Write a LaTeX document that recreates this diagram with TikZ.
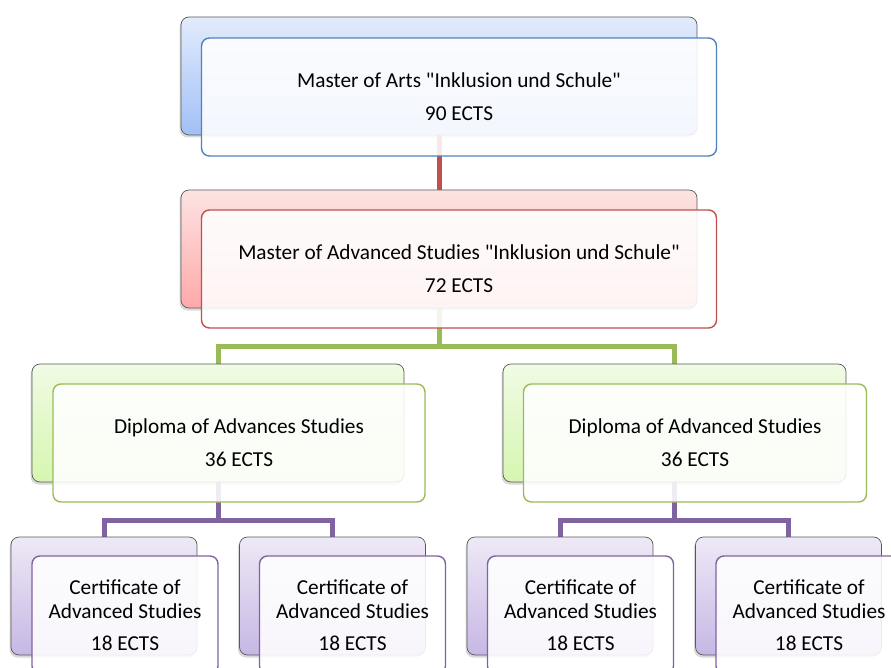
\documentclass[tikz,border=0pt]{standalone}
\usepackage{fontspec}
\setmainfont{Carlito}[Ligatures=TeXOff]
\usetikzlibrary{shadows,backgrounds}
\definecolor{lvAline}{HTML}{4F81BD}
\definecolor{lvBline}{HTML}{C0504D}
\definecolor{lvCline}{HTML}{9BBB59}
\definecolor{lvDline}{HTML}{8064A2}
\definecolor{lvAtop}{HTML}{E2EBFC}
\definecolor{lvAbot}{HTML}{A2C0F7}
\definecolor{lvBtop}{HTML}{FDE3E3}
\definecolor{lvBbot}{HTML}{FFA9A9}
\definecolor{lvCtop}{HTML}{F0FBE4}
\definecolor{lvCbot}{HTML}{D6F6B0}
\definecolor{lvDtop}{HTML}{EEE9F6}
\definecolor{lvDbot}{HTML}{C7B7E5}
\begin{document}
\begin{tikzpicture}[x=1pt,y=-1pt,
  backbox/.style={draw=black!65, line width=0.7pt, rounded corners=8pt,
    minimum height=118pt, inner sep=0pt,
    drop shadow={shadow xshift=-1.5pt, shadow yshift=-2.5pt, opacity=0.3}},
  frontbox/.style={rounded corners=8pt, fill=white, fill opacity=0.88,
    text opacity=1, line width=1.4pt, minimum height=118pt, inner sep=0pt,
    align=center, font=\fontsize{21.3}{24}\selectfont, text=black},
  conn/.style={line width=5pt}
]
\useasboundingbox (0,0) rectangle (891,668);

% level 1
\node[backbox, top color=lvAtop, bottom color=lvAbot, minimum width=516pt] (b1) at (439,76) {};
\node[frontbox, draw=lvAline, minimum width=515pt] (f1) at (459,97)
  {Master of Arts "Inklusion und Schule"\\[9pt]90 ECTS};

% level 2
\node[backbox, top color=lvBtop, bottom color=lvBbot, minimum width=516pt] (b2) at (439,249) {};
\node[frontbox, draw=lvBline, minimum width=515pt] (f2) at (459,269)
  {Master of Advanced Studies "Inklusion und Schule"\\[9pt]72 ECTS};

% level 3
\node[backbox, top color=lvCtop, bottom color=lvCbot, minimum width=372pt] (b3a) at (218,423) {};
\node[frontbox, draw=lvCline, minimum width=372pt] (f3a) at (239,443)
  {Diploma of Advances Studies\\[9pt]36 ECTS};
\node[backbox, top color=lvCtop, bottom color=lvCbot, minimum width=343pt] (b3b) at (674.5,423) {};
\node[frontbox, draw=lvCline, minimum width=343pt] (f3b) at (695,443)
  {Diploma of Advanced Studies\\[9pt]36 ECTS};

% level 4
\node[backbox, top color=lvDtop, bottom color=lvDbot, minimum width=186pt] (b4a) at (104,596) {};
\node[frontbox, draw=lvDline, minimum width=186pt] (f4a) at (125,615)
  {Certificate of\\Advanced Studies\\[8pt]18 ECTS};
\node[backbox, top color=lvDtop, bottom color=lvDbot, minimum width=186pt] (b4b) at (332.5,596) {};
\node[frontbox, draw=lvDline, minimum width=186pt] (f4b) at (352.5,615)
  {Certificate of\\Advanced Studies\\[8pt]18 ECTS};
\node[backbox, top color=lvDtop, bottom color=lvDbot, minimum width=186pt] (b4c) at (560,596) {};
\node[frontbox, draw=lvDline, minimum width=186pt] (f4c) at (580.5,615)
  {Certificate of\\Advanced Studies\\[8pt]18 ECTS};
\node[backbox, top color=lvDtop, bottom color=lvDbot, minimum width=186pt] (b4d) at (788.5,596) {};
\node[frontbox, draw=lvDline, minimum width=186pt] (f4d) at (809,615)
  {Certificate of\\Advanced Studies\\[8pt]18 ECTS};

% connectors
\coordinate (j2) at (439,346);
\coordinate (j3a) at (218,520);
\coordinate (j3b) at (674.5,520);
\begin{scope}[on background layer]
  \draw[conn, lvBline] (b1.south) -- (b2.north);
  \draw[conn, lvCline] (b2.south) -- (j2) -| (b3a.north);
  \draw[conn, lvCline] (j2) -| (b3b.north);
  \draw[conn, lvDline] (b3a.south) -- (j3a) -| (b4a.north);
  \draw[conn, lvDline] (j3a) -| (b4b.north);
  \draw[conn, lvDline] (b3b.south) -- (j3b) -| (b4c.north);
  \draw[conn, lvDline] (j3b) -| (b4d.north);
\end{scope}
\end{tikzpicture}
\end{document}
